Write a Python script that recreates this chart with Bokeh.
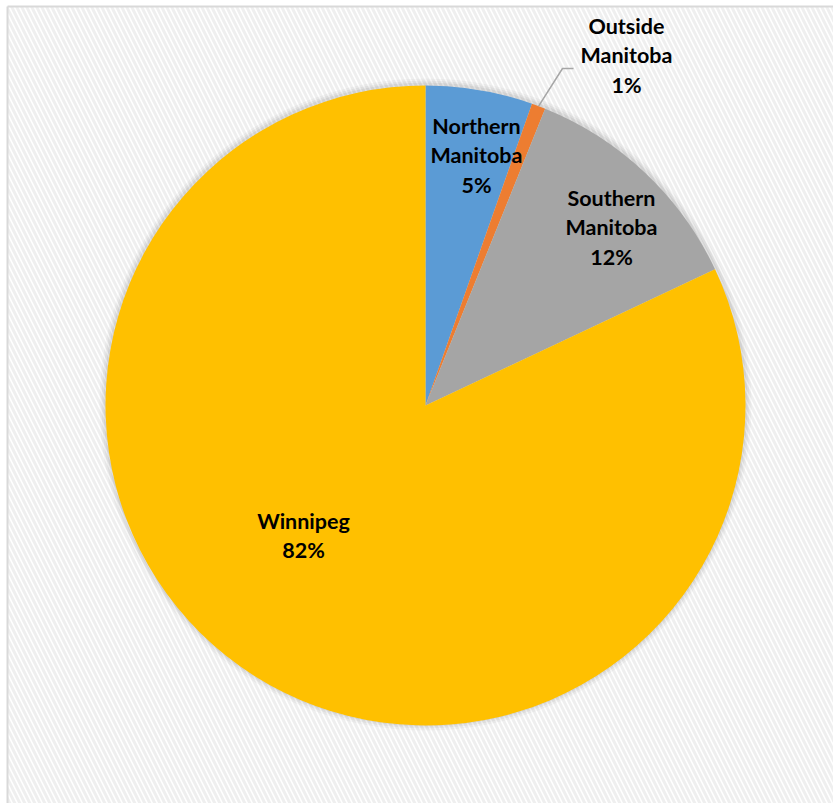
import math
from bokeh.plotting import figure
from bokeh.models import Range1d, ColumnDataSource
from bokeh.core.properties import value
from bokeh.embed import file_html
from bokeh.resources import INLINE

# ---- data ----
regions = ["Northern Manitoba", "Outside Manitoba", "Southern Manitoba", "Winnipeg"]
shares = [5.4, 0.7, 11.9, 82.0]
label_lines = [["Northern", "Manitoba"], ["Outside", "Manitoba"], ["Southern", "Manitoba"], ["Winnipeg"]]
colors = ["#5B9BD5", "#ED7D31", "#A5A5A5", "#FFC000"]

W, H = 833, 803
p = figure(width=W, height=H, output_backend="svg", toolbar_location=None,
           x_range=Range1d(0, W), y_range=Range1d(0, H), min_border=0)
p.axis.visible = False
p.grid.visible = False
p.outline_line_color = None
p.background_fill_color = "white"
p.border_fill_color = "white"

# background panel with diagonal texture
p.quad(left=7, right=W + 10, bottom=-10, top=H - 6, fill_color="white",
       hatch_pattern="left_diagonal_line", hatch_color="#efefef", hatch_scale=10,
       hatch_weight=3, line_color=None)
p.line([7, 7], [-10, H - 6], line_color="#d9d9d9", line_width=2)
p.line([7, W + 10], [H - 6, H - 6], line_color="#d9d9d9", line_width=2)

cx, cy, R = 425, H - 405, 320

# subtle shadow
for k, a in [(6, 0.03), (4, 0.04), (2, 0.05)]:
    p.circle(x=[cx], y=[cy + 1], radius=R + k, fill_color="black", fill_alpha=a, line_color=None)

total = sum(shares)
starts, ends, mids = [], [], []
cum = 0.0
for s in shares:
    a0 = math.pi / 2 - 2 * math.pi * cum / total
    cum += s
    a1 = math.pi / 2 - 2 * math.pi * cum / total
    starts.append(a0)
    ends.append(a1)
    mids.append((a0 + a1) / 2)

src = ColumnDataSource(dict(start=starts, end=ends, color=colors, region=regions))
p.wedge(x=cx, y=cy, radius=R, start_angle="start", end_angle="end", direction="clock",
        fill_color="color", line_color=None, source=src)

# labels
pct = [f"{round(s)}%" for s in shares]
texts = ["\n".join(label_lines[i] + [pct[i]]) for i in range(len(shares))]
lab_pos = [(476, H - 155), (626, H - 55), (611, H - 227), (303, H - 535)]
p.text(x=[q[0] for q in lab_pos], y=[q[1] for q in lab_pos], text=texts,
       text_font=value("Lato"), text_font_style="bold", text_font_size="21.5px",
       text_color="#000000", text_align="center", text_baseline="middle",
       text_line_height=1.14)

# leader line for small slice
m = mids[1]
sx, sy = cx + R * math.cos(m), cy + R * math.sin(m)
p.line([sx, 562, 573], [sy, H - 68, H - 68], line_color="#a6a6a6", line_width=1.5)

open("out.html", "w").write(file_html(p, INLINE))
